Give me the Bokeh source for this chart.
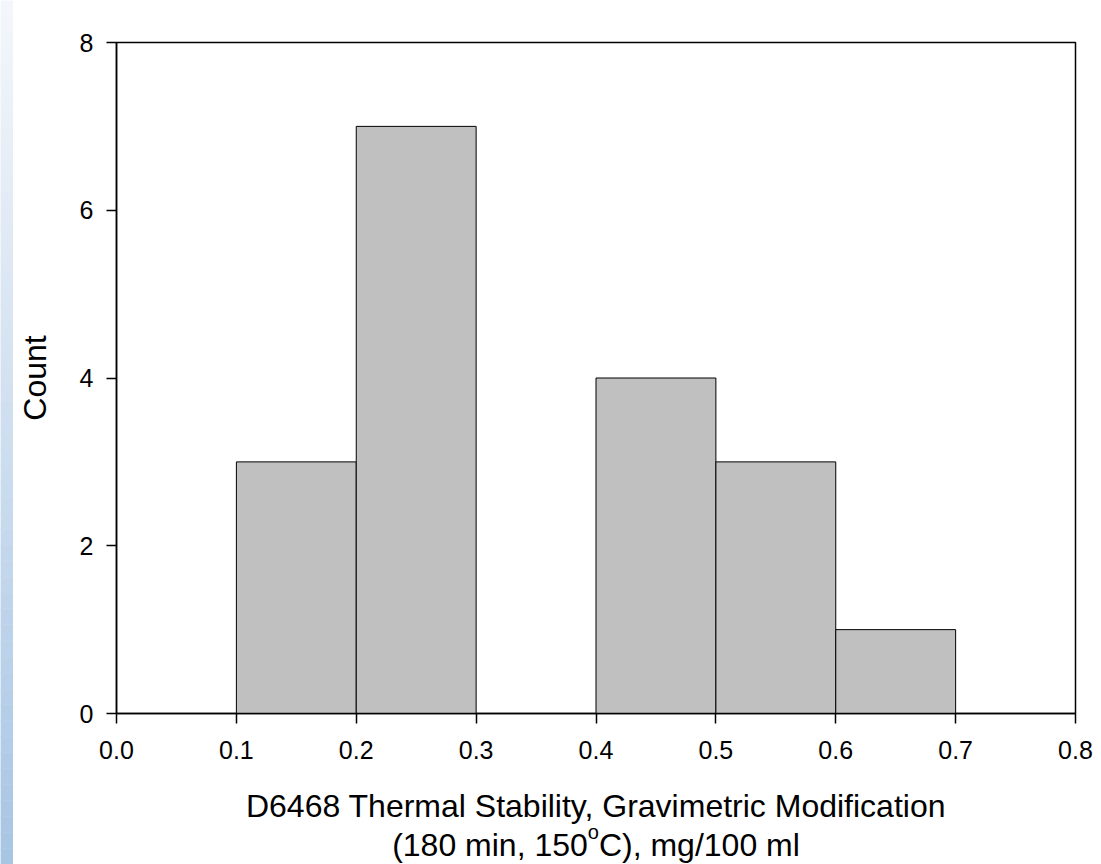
from bokeh.plotting import figure
from bokeh.layouts import row, column
from bokeh.models import Range1d, FixedTicker, PrintfTickFormatter
from bokeh.core.properties import value
from bokeh.embed import file_html
from bokeh.resources import INLINE

# Data (histogram bins)
bin_left = [0.1, 0.2, 0.3, 0.4, 0.5, 0.6]
bin_right = [0.2, 0.3, 0.4, 0.5, 0.6, 0.7]
counts = [3, 7, 0, 4, 3, 1]
x_ticks = [0.0, 0.1, 0.2, 0.3, 0.4, 0.5, 0.6, 0.7, 0.8]
y_ticks = [0, 2, 4, 6, 8]
x_title_1 = "D6468 Thermal Stability, Gravimetric Modification"
x_title_2a = "(180 min, 150"
x_title_2b = "o"
x_title_2c = "C), mg/100 ml"
y_title = "Count"

FONT = "Liberation Sans"
TICK_FS = 25
TITLE_FS = 32
SUP_FS = 20


def bare_figure(w, h, xr, yr):
    fig = figure(width=w, height=h, output_backend="svg", toolbar_location=None,
                 x_range=xr, y_range=yr, x_axis_location=None, y_axis_location=None,
                 min_border=0, min_border_left=0, min_border_right=0,
                 min_border_top=0, min_border_bottom=0)
    fig.grid.visible = False
    fig.outline_line_color = None
    return fig


# ---- decorative left gradient strip ----
n = 54
top_c = (244, 247, 251)
bot_c = (168, 197, 228)
band_cols = []
for i in range(n):
    t = (i + 0.5) / n
    c = tuple(int(round(top_c[k] + (bot_c[k] - top_c[k]) * t)) for k in range(3))
    band_cols.append("#%02x%02x%02x" % c)
strip = bare_figure(13, 864, Range1d(0, 1), Range1d(n, 0))
strip.quad(left=[0] * n, right=[1] * n, top=list(range(n)), bottom=list(range(1, n + 1)),
           fill_color=band_cols, line_color=band_cols, line_width=0.5)

# ---- decorative top band ----
band = bare_figure(1088, 5, Range1d(0, 1), Range1d(0, 1))
band.background_fill_color = "#f3f6fa"
band.border_fill_color = "#f3f6fa"

# ---- main chart ----
x_range = Range1d(0, 0.8)
p = figure(width=1088, height=779, output_backend="svg", toolbar_location=None,
           x_range=x_range, y_range=Range1d(0, 8),
           min_border_left=102, min_border_right=26, min_border_top=37, min_border_bottom=71)
p.background_fill_color = "white"
p.border_fill_color = "white"
p.outline_line_color = "black"
p.outline_line_width = 1.5
p.grid.visible = False

p.quad(left=bin_left, right=bin_right, top=counts, bottom=0,
       fill_color="#c0c0c0", line_color="black", line_width=1)

for ax in (p.xaxis[0], p.yaxis[0]):
    ax.axis_line_color = "black"
    ax.axis_line_width = 1.5
    ax.major_tick_line_color = "black"
    ax.major_tick_line_width = 1.5
    ax.major_tick_in = 0
    ax.major_tick_out = 10
    ax.minor_tick_line_color = None
    ax.major_label_text_font = FONT
    ax.major_label_text_font_size = f"{TICK_FS}px"
    ax.major_label_text_color = "black"
    ax.axis_label_text_font = FONT
    ax.axis_label_text_font_style = "normal"
    ax.axis_label_text_color = "black"

p.xaxis.ticker = FixedTicker(ticks=x_ticks)
p.xaxis.formatter = PrintfTickFormatter(format="%.1f")
p.xaxis.major_label_standoff = 17
p.yaxis.ticker = FixedTicker(ticks=y_ticks)
p.yaxis.major_label_standoff = 13
p.yaxis.axis_label = y_title
p.yaxis.axis_label_text_font_size = f"{TITLE_FS}px"
p.yaxis.axis_label_standoff = 24

# ---- caption (two-line x-axis title with superscript), shares the x scale ----
cap_h = 80
cap = bare_figure(1088, cap_h, x_range, Range1d(cap_h, 0))
cap.background_fill_color = "white"
cap.border_fill_color = "white"
xc = 0.4  # centre of the x axis
w1 = 6.114 * TITLE_FS
wo = 0.556 * SUP_FS
w2 = 6.279 * TITLE_FS
start = -(w1 + wo + w2) / 2
cap.text(x=[xc], y=[21], text=[x_title_1], text_font=value(FONT),
         text_font_size=f"{TITLE_FS}px", text_align="center",
         text_baseline="alphabetic", text_color="black")
cap.text(x=[xc], y=[60], x_offset=start, text=[x_title_2a], text_font=value(FONT),
         text_font_size=f"{TITLE_FS}px", text_align="left",
         text_baseline="alphabetic", text_color="black")
cap.text(x=[xc], y=[47], x_offset=start + w1, text=[x_title_2b], text_font=value(FONT),
         text_font_size=f"{SUP_FS}px", text_align="left",
         text_baseline="alphabetic", text_color="black")
cap.text(x=[xc], y=[60], x_offset=start + w1 + wo, text=[x_title_2c], text_font=value(FONT),
         text_font_size=f"{TITLE_FS}px", text_align="left",
         text_baseline="alphabetic", text_color="black")

layout = row(strip, column(band, p, cap, spacing=0), spacing=0)
open("out.html", "w").write(file_html(layout, INLINE))
